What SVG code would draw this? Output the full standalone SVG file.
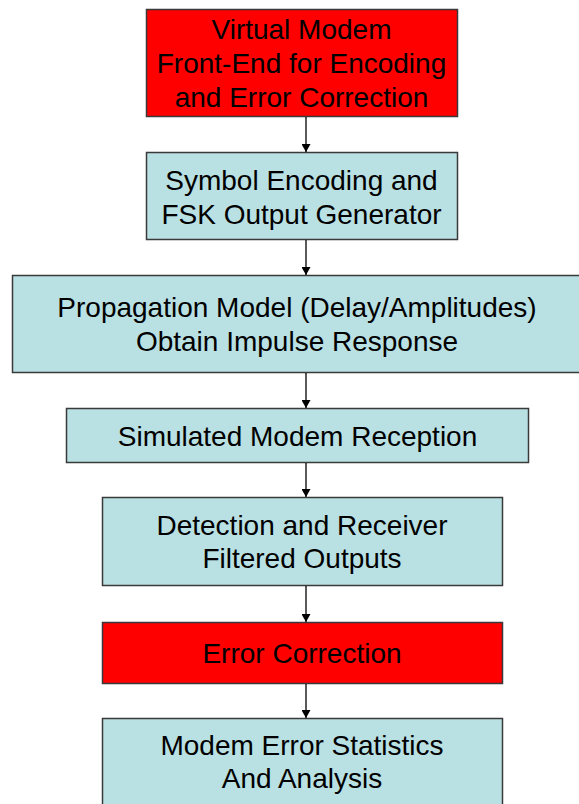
<svg xmlns="http://www.w3.org/2000/svg" width="579" height="804" viewBox="0 0 579 804">
<defs>
<marker id="ah" markerWidth="8" markerHeight="9" refX="8" refY="4.5" orient="auto" markerUnits="userSpaceOnUse">
<path d="M0,0 L8,4.5 L0,9 Z" fill="#000"/>
</marker>
</defs>
<style>
.box{stroke:#3a3a3a;stroke-width:1.5}
.red{fill:#FF0000}
.blue{fill:#B9E0E3}
text{font-family:"Liberation Sans",Arial,sans-serif;font-size:28px;fill:#000;text-anchor:middle}
.conn line{stroke:#000;stroke-width:1.3;marker-end:url(#ah)}
</style>
<rect width="579" height="804" fill="#fff"/>
<g id="n1">
<rect class="box red" x="146.5" y="9.5" width="311" height="107"/>
<text x="301.5" y="39">Virtual Modem</text>
<text x="301.5" y="73">Front-End for Encoding</text>
<text x="301.5" y="107">and Error Correction</text>
</g>
<g id="n2">
<rect class="box blue" x="146.5" y="152.5" width="311" height="87"/>
<text x="301.5" y="190">Symbol Encoding and</text>
<text x="301.5" y="224">FSK Output Generator</text>
</g>
<g id="n3">
<rect class="box blue" x="12.5" y="275.5" width="570" height="97"/>
<text x="297" y="317">Propagation Model (Delay/Amplitudes)</text>
<text x="297" y="351">Obtain Impulse Response</text>
</g>
<g id="n4">
<rect class="box blue" x="66.5" y="408.5" width="462" height="54"/>
<text x="297.5" y="446">Simulated Modem Reception</text>
</g>
<g id="n5">
<rect class="box blue" x="102.5" y="497.5" width="400" height="88"/>
<text x="302" y="535">Detection and Receiver</text>
<text x="302" y="568">Filtered Outputs</text>
</g>
<g id="n6">
<rect class="box red" x="102.5" y="622.5" width="400" height="61"/>
<text x="302" y="663">Error Correction</text>
</g>
<g id="n7">
<rect class="box blue" x="102.5" y="718.5" width="400" height="100"/>
<text x="302" y="755">Modem Error Statistics</text>
<text x="302" y="788">And Analysis</text>
</g>
<g id="connectors" class="conn">
<line x1="306" y1="117" x2="306" y2="152"/>
<line x1="306" y1="240" x2="306" y2="275"/>
<line x1="306" y1="373" x2="306" y2="408"/>
<line x1="306" y1="463" x2="306" y2="497"/>
<line x1="306" y1="586" x2="306" y2="622"/>
<line x1="306" y1="684" x2="306" y2="718"/>
</g>
</svg>
